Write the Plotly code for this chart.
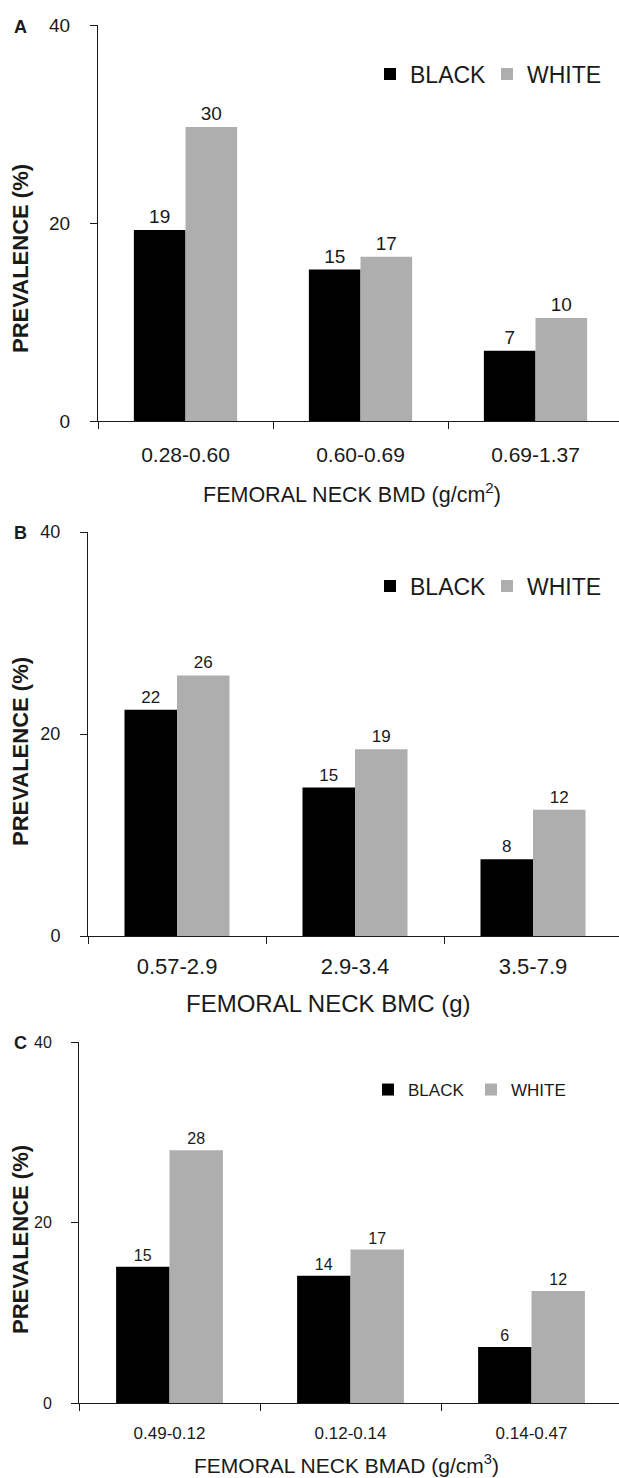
import plotly.graph_objects as go

W, H = 619, 1478

# ---------------- data ----------------
series_names = ["BLACK", "WHITE"]
series_colors = ["#000000", "#AEAEAE"]

cats_a = ["0.28-0.60", "0.60-0.69", "0.69-1.37"]
black_a = [19.3, 15.3, 7.1]
white_a = [29.7, 16.6, 10.4]
black_a_lbl = ["19", "15", "7"]
white_a_lbl = ["30", "17", "10"]

cats_b = ["0.57-2.9", "2.9-3.4", "3.5-7.9"]
black_b = [22.4, 14.7, 7.6]
white_b = [25.8, 18.5, 12.5]
black_b_lbl = ["22", "15", "8"]
white_b_lbl = ["26", "19", "12"]

cats_c = ["0.49-0.12", "0.12-0.14", "0.14-0.47"]
black_c = [15.1, 14.1, 6.2]
white_c = [28.0, 17.0, 12.4]
black_c_lbl = ["15", "14", "6"]
white_c_lbl = ["28", "17", "12"]

y_ticks = [0, 20, 40]
y_title = "PREVALENCE (%)"
x_titles = ["FEMORAL NECK BMD (g/cm<sup>2</sup>)",
            "FEMORAL NECK BMC (g)",
            "FEMORAL NECK BMAD (g/cm<sup>3</sup>)"]
panel_letters = ["A", "B", "C"]

FONT = "Liberation Sans, Arial, sans-serif"
INK = "#1a1a1a"

def fx(px):
    return px / W

def fy(py):
    return 1 - py / H

panels = [
    dict(cats=cats_a, vals=[black_a, white_a], lbls=[black_a_lbl, white_a_lbl],
         x0=98, cw=175, ytop=25, ybot=421, ytick=19, xtick=21, lbl=19, xtitle=21.5,
         leg=23, legx=370, legy=74, entw=72, ytitle_y=259, letter_y=27, xstand=15,
         xt_x=352, xt_y=493),
    dict(cats=cats_b, vals=[black_b, white_b], lbls=[black_b_lbl, white_b_lbl],
         x0=88, cw=178, ytop=532, ybot=936, ytick=18, xtick=22, lbl=17, xtitle=24,
         leg=23, legx=370, legy=586, entw=72, ytitle_y=752, letter_y=533, xstand=11,
         xt_x=328, xt_y=1003),
    dict(cats=cats_c, vals=[black_c, white_c], lbls=[black_c_lbl, white_c_lbl],
         x0=79, cw=181, ytop=1042, ybot=1403, ytick=16, xtick=17, lbl=16, xtitle=21,
         leg=17, legx=368, legy=1090, entw=58, ytitle_y=1240, letter_y=1043, xstand=15,
         xt_x=347, xt_y=1464),
]

fig = go.Figure()
layout = dict(
    width=W, height=H, autosize=False,
    margin=dict(l=0, r=0, t=0, b=0),
    paper_bgcolor="white", plot_bgcolor="white",
    barmode="group", bargap=0.41, bargroupgap=0,
    font=dict(family=FONT, color=INK),
    annotations=[],
)

for i, p in enumerate(panels):
    sfx = "" if i == 0 else str(i + 1)
    xa, ya = "x" + sfx, "y" + sfx
    legname = "legend" + sfx
    for s in range(2):
        fig.add_trace(go.Bar(
            x=p["cats"], y=p["vals"][s], name=series_names[s],
            marker=dict(color=series_colors[s], line=dict(width=0)),
            text=p["lbls"][s], textposition="outside",
            textfont=dict(size=p["lbl"], color=INK, family=FONT),
            cliponaxis=False, xaxis=xa, yaxis=ya, legend=legname,
            hoverinfo="skip",
        ))
    rng_end = -0.5 + (W - p["x0"]) / p["cw"]
    layout["xaxis" + sfx] = dict(
        domain=[fx(p["x0"]), 1], anchor=ya, type="category",
        range=[-0.5, rng_end], tickson="boundaries",
        ticks="outside", ticklen=7, tickcolor=INK, tickwidth=1,
        showline=True, linecolor=INK, linewidth=1, showgrid=False,
        zeroline=False, ticklabelstandoff=p["xstand"],
        tickfont=dict(size=p["xtick"], color=INK),
        automargin=False, fixedrange=True,
    )
    layout["yaxis" + sfx] = dict(
        domain=[fy(p["ybot"]), fy(p["ytop"])], anchor=xa,
        range=[0, 40], tickvals=y_ticks,
        ticks="outside", ticklen=7, tickcolor=INK, tickwidth=1,
        showline=True, linecolor=INK, linewidth=1, showgrid=False,
        zeroline=False, ticklabelstandoff=16,
        tickfont=dict(size=p["ytick"], color=INK),
        automargin=False, fixedrange=True,
    )
    layout[legname] = dict(
        orientation="h", x=fx(p["legx"]), y=fy(p["legy"]),
        xanchor="left", yanchor="middle",
        font=dict(size=p["leg"], color=INK),
        entrywidth=p["entw"], entrywidthmode="pixels",
        bgcolor="rgba(0,0,0,0)", traceorder="normal",
        itemclick=False, itemdoubleclick=False,
    )
    # x-axis title
    layout["annotations"].append(dict(
        text=x_titles[i], x=fx(p["xt_x"]), y=fy(p["xt_y"]),
        xref="paper", yref="paper", xanchor="center", yanchor="middle",
        showarrow=False, font=dict(size=p["xtitle"], color=INK, family=FONT),
    ))
    # y-axis title
    layout["annotations"].append(dict(
        text="<b>%s</b>" % y_title, textangle=-90,
        x=fx(20), y=fy(p["ytitle_y"]), xref="paper", yref="paper",
        xanchor="center", yanchor="middle", showarrow=False,
        font=dict(size=22, color=INK, family=FONT),
    ))
    # panel letter
    layout["annotations"].append(dict(
        text="<b>%s</b>" % panel_letters[i],
        x=fx(20), y=fy(p["letter_y"]), xref="paper", yref="paper",
        xanchor="center", yanchor="middle", showarrow=False,
        font=dict(size=18, color=INK, family=FONT),
    ))

fig.update_layout(**layout)

page_reset = ("document.documentElement.style.margin='0';"
              "document.body.style.margin='0';"
              "document.body.style.overflow='hidden';")
fig.write_html("out.html", post_script=page_reset,
               config={"displayModeBar": False, "responsive": False})
